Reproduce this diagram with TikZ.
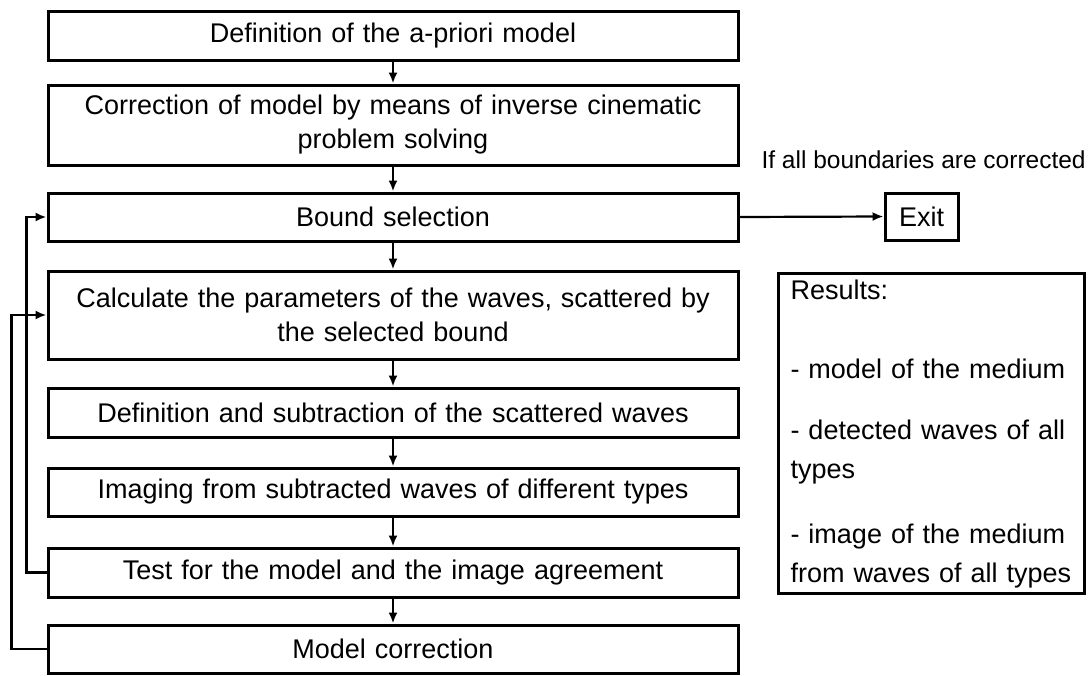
\documentclass[tikz,border=0pt]{standalone}
\usepackage{fontspec}
\setmainfont{Liberation Sans}
\usetikzlibrary{arrows.meta, positioning}

\begin{document}
\begin{tikzpicture}[x=1pt, y=-1pt,
    box/.style = {draw, line width=3pt, minimum width=690pt, text width=670pt,
                  align=center, inner sep=0pt, font=\fontsize{27}{34}\selectfont},
    link/.style = {line width=2.2pt, -{Latex[length=11pt, width=9pt]}}]
    \useasboundingbox (0,0) rectangle (1089,675);
    % main chain of steps
    \foreach \n/\y/\h/\t in {
        1/35.5/49/{Definition of the a-priori model},
        2/125/80/{Correction of model by means of inverse cinematic\\problem solving},
        3/217/48/{Bound selection},
        4/315/88/{Calculate the parameters of the waves, scattered by\\the selected bound},
        5/412.5/49/{Definition and subtraction of the scattered waves},
        6/492/48/{Imaging from subtracted waves of different types},
        7/572.5/49/{Test for the model and the image agreement},
        8/649/48/{Model correction}}{
        \node[box, minimum height=\h] (B\n) at (393,\y) {\t};
    }
    \foreach \a/\b in {1/2, 2/3, 3/4, 4/5, 5/6, 6/7, 7/8}{
        \draw[link] (B\a) -- (B\b);
    }
    % feedback loops
    \draw[link] (B7.west) -- ++(-20,0) |- (B3.west);
    \draw[link] (B8.west) -- ++(-35,0) |- (B4.west);
    % exit
    \node[draw, line width=3pt, minimum width=73pt, minimum height=47pt,
          inner sep=0pt, font=\fontsize{27}{34}\selectfont] (Exit) at (921.5,216.5) {Exit};
    \node[anchor=west, font=\fontsize{24.5}{30}\selectfont] (cond) at (758,160) {If all boundaries are corrected};
    \draw[link] (B3.east) -- (Exit.west);
    % results
    \node[draw, line width=3pt, anchor=north west, text width=282pt, align=left,
          inner xsep=12pt, inner ysep=6pt, font=\fontsize{27}{39}\selectfont] (res) at (777,272)
        {Results:\\[40pt]- model of the medium\\[22pt]- detected waves of all\\types\\[26pt]- image of the medium\\from waves of all types};
\end{tikzpicture}
\end{document}
